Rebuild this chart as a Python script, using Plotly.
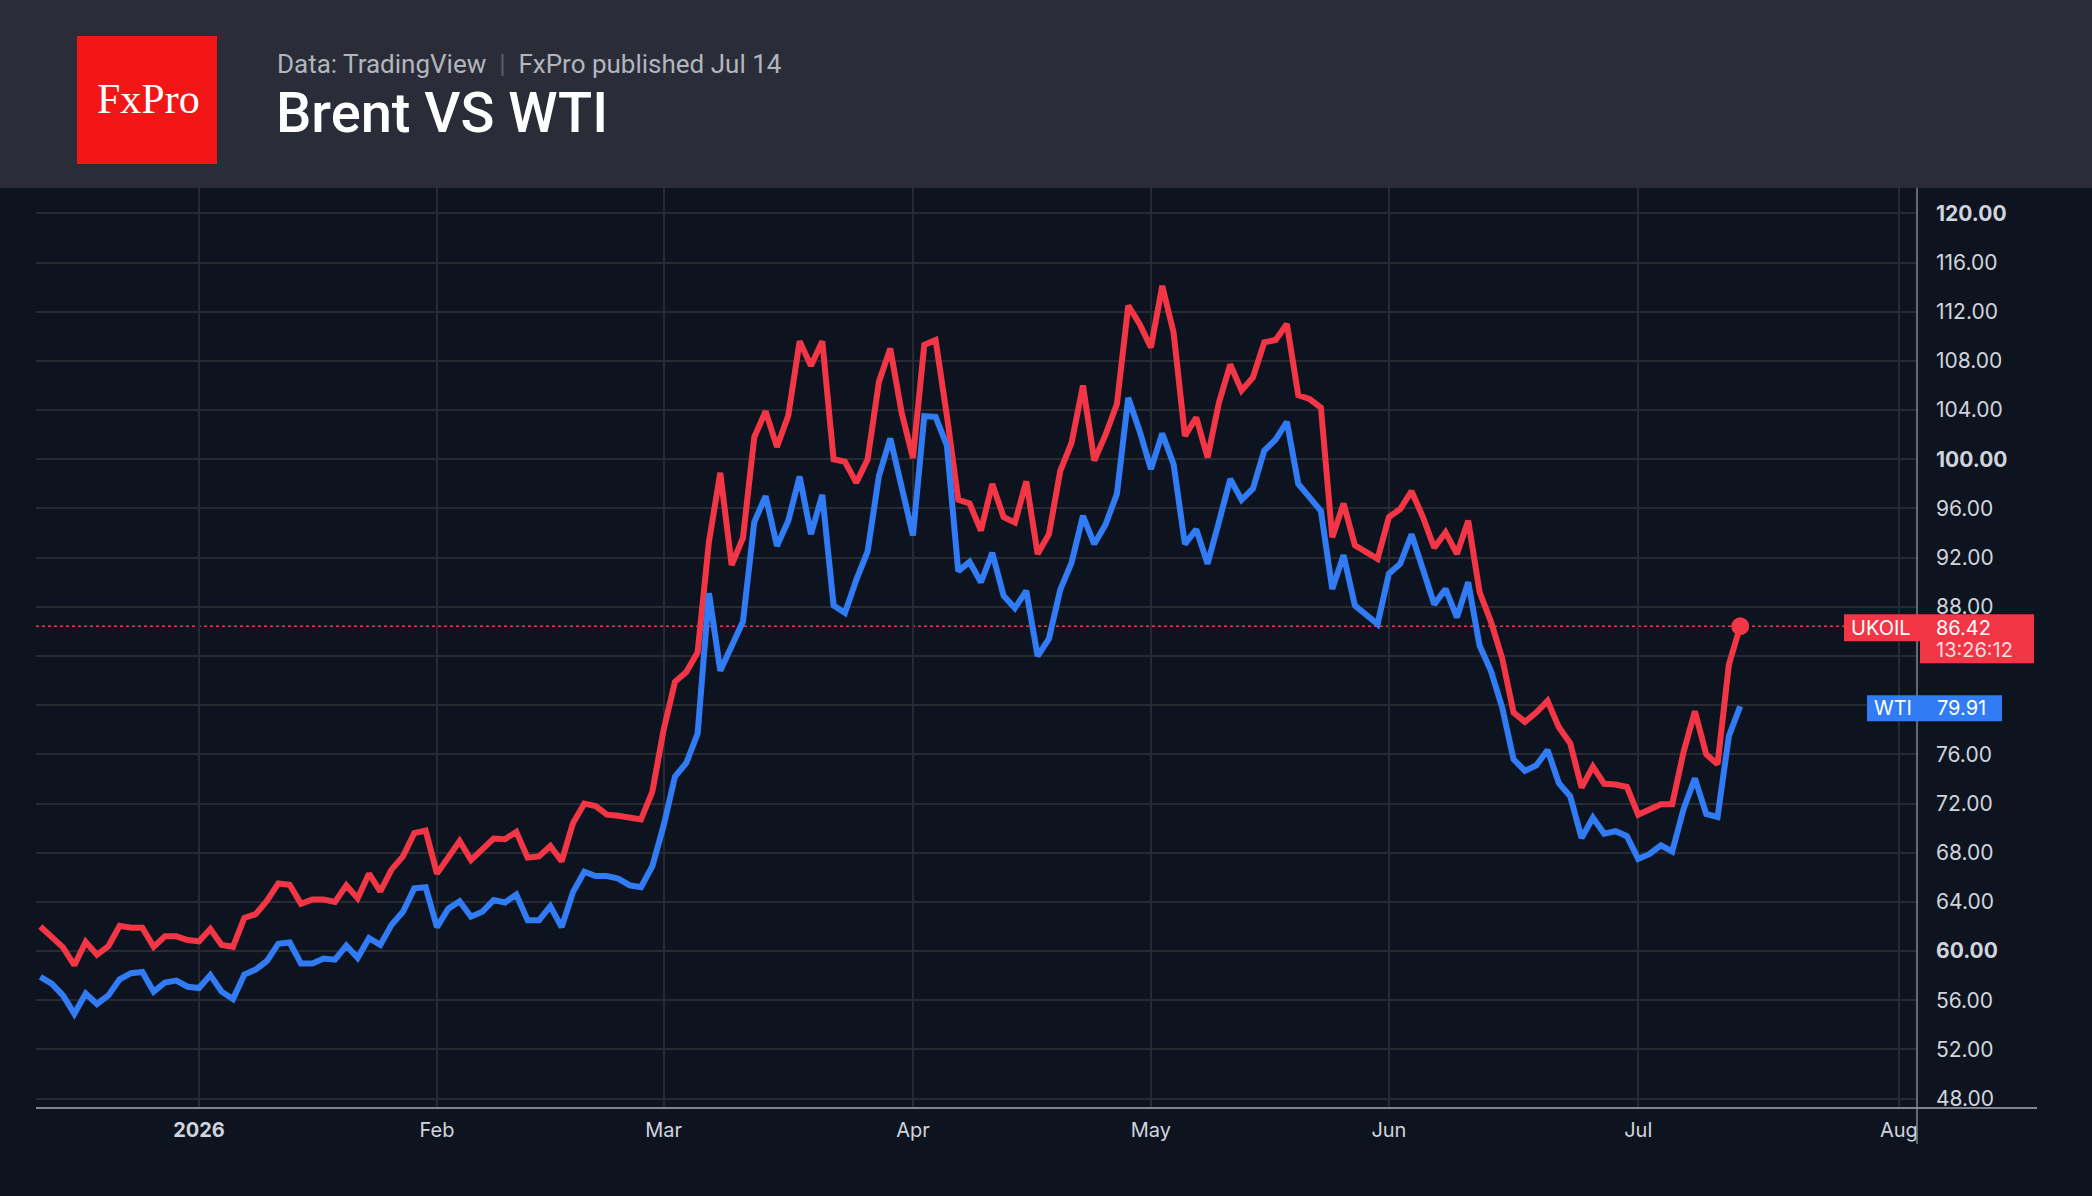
import pandas as pd
import plotly.graph_objects as go

# ---------------- data ----------------
start_date = "2025-12-11"
end_date = "2026-07-14"
holidays = ["2025-12-25", "2026-01-01", "2026-04-03"]

brent = [62.0, 61.2, 60.3, 58.85, 60.75, 59.7, 60.4, 62.05, 61.9, 61.9, 60.35, 61.2, 61.2, 60.9,
         60.8, 61.8, 60.5, 60.35, 62.7, 63.0, 64.1, 65.5, 65.4, 63.85, 64.2, 64.2, 64.0, 65.35,
         64.3, 66.3, 64.85, 66.65, 67.7, 69.6, 69.8, 66.3, 67.6, 68.95, 67.4, 68.35, 69.15, 69.1,
         69.7, 67.6, 67.7, 68.55, 67.3, 70.4, 72.0, 71.8, 71.1, 71.0, 70.9, 70.7, 72.95, 78.0,
         81.9, 82.7, 84.3, 93.3, 98.9, 91.4, 93.6, 101.8, 103.9, 101.0, 103.55, 109.6, 107.6, 109.6,
         100.0, 99.8, 98.1, 100.0, 106.3, 109.0, 103.8, 100.1, 109.3, 109.7, 103.5, 96.7, 96.4, 94.2,
         98.0, 95.3, 94.85, 98.2, 92.3, 93.9, 99.05, 101.35, 106.0, 99.9, 102.0, 104.5, 112.5, 111.0,
         109.1, 114.1, 110.3, 101.9, 103.4, 100.15, 104.6, 107.7, 105.6, 106.65, 109.5, 109.7, 111.0,
         105.2, 104.9, 104.2, 93.65, 96.4, 93.0, 92.4, 91.9, 95.3, 95.95, 97.4, 95.3, 92.8, 94.05,
         92.3, 95.0, 89.2, 86.8, 83.8, 79.4, 78.65, 79.4, 80.35, 78.2, 76.9, 73.3, 75.0, 73.6, 73.55,
         73.35, 71.1, 71.55, 71.95, 71.95, 76.2, 79.5, 76.0, 75.2, 83.3, 86.42]

wti = [57.9, 57.35, 56.4, 54.9, 56.55, 55.7, 56.4, 57.7, 58.2, 58.3, 56.7, 57.45, 57.6, 57.1,
       57.0, 58.05, 56.7, 56.1, 58.1, 58.5, 59.2, 60.6, 60.7, 59.0, 59.0, 59.4, 59.3, 60.45,
       59.45, 61.05, 60.5, 62.15, 63.2, 65.1, 65.2, 61.95, 63.45, 64.05, 62.8, 63.2, 64.15, 63.95,
       64.6, 62.5, 62.5, 63.65, 61.95, 64.8, 66.45, 66.1, 66.1, 65.9, 65.35, 65.2, 66.9, 70.2,
       74.2, 75.3, 77.7, 89.1, 82.8, 84.9, 86.8, 94.9, 97.0, 92.95, 95.0, 98.6, 93.9, 97.1,
       88.1, 87.5, 90.2, 92.5, 98.65, 101.7, 98.0, 93.8, 103.5, 103.45, 101.1, 90.9, 91.65, 90.0,
       92.4, 88.9, 87.9, 89.3, 84.0, 85.4, 89.4, 91.6, 95.4, 93.1, 94.7, 97.2, 105.0, 102.3,
       99.2, 102.1, 99.6, 93.1, 94.3, 91.5, 94.9, 98.4, 96.7, 97.6, 100.7, 101.6, 103.05,
       98.0, 96.9, 95.8, 89.45, 92.2, 88.1, 87.3, 86.6, 90.7, 91.5, 93.9, 90.95, 88.2, 89.45,
       87.15, 90.0, 84.85, 82.8, 79.8, 75.6, 74.65, 75.1, 76.35, 73.65, 72.6, 69.2, 70.85, 69.55,
       69.75, 69.35, 67.5, 67.9, 68.6, 68.1, 71.55, 74.05, 71.15, 70.9, 77.5, 79.91]

month_labels = ["<b>2026</b>", "Feb", "Mar", "Apr", "May", "Jun", "Jul", "Aug"]
month_periods = ["2026-01", "2026-02", "2026-03", "2026-04", "2026-05", "2026-06", "2026-07", "2026-08"]
y_levels = list(range(48, 121, 4))
bold_levels = [60, 100, 120]
hidden_levels = [80, 84]          # covered by the price labels in the original
brent_last_label = "86.42"
brent_timer = "13:26:12"
wti_last_label = "79.91"

# ---------------- calendar (trading bars) ----------------
cal = pd.bdate_range(start_date, "2026-08-31")
cal = cal[~cal.isin(pd.to_datetime(holidays))]
dates = cal[cal <= pd.Timestamp(end_date)]
xs = list(range(len(dates)))
n = min(len(xs), len(brent), len(wti))
xs = xs[:n]
month_pos = []
for p in month_periods:
    per = pd.Period(p, freq="M")
    month_pos.append(next(i for i, d in enumerate(cal) if d.to_period("M") == per))


def fmt(v):
    if v in hidden_levels:
        return ""
    s = "%.2f" % v
    return "<b>%s</b>" % s if v in bold_levels else s


y_text = [fmt(v) for v in y_levels]

# ---------------- geometry ----------------
W, H = 2092, 1196
L, R, T, B = 36, 175, 188, 88
PW, PH = W - L - R, H - T - B


def px_x(p):
    return (p - L) / PW


def px_y(p):
    return (H - B - p) / PH


BG = "#0d1420"
HEADER = "#2a2d38"
RED = "#f23645"
BLUE = "#317bf5"
GRID = "#272a30"
AXIS = "#82858e"
TXT = "#d1d4dc"

fig = go.Figure()
fig.add_trace(go.Scatter(x=xs, y=brent[:n], mode="lines", line=dict(color=RED, width=6),
                         hoverinfo="skip"))
fig.add_trace(go.Scatter(x=xs, y=wti[:n], mode="lines", line=dict(color=BLUE, width=6),
                         hoverinfo="skip"))
fig.add_trace(go.Scatter(x=[xs[-1]], y=[brent[n - 1]], mode="markers",
                         marker=dict(color=RED, size=18), hoverinfo="skip"))

shapes = []
# header band
shapes.append(dict(type="rect", xref="paper", yref="paper", x0=px_x(0), x1=px_x(W),
                   y0=px_y(188), y1=px_y(0), fillcolor=HEADER, line=dict(width=0), layer="above"))
# logo
shapes.append(dict(type="rect", xref="paper", yref="paper", x0=px_x(77), x1=px_x(217),
                   y0=px_y(164), y1=px_y(36), fillcolor="#f31616", line=dict(width=0), layer="above"))
# dotted last-price line
shapes.append(dict(type="line", xref="paper", yref="y", x0=0, x1=1, y0=brent[n - 1], y1=brent[n - 1],
                   line=dict(color=RED, width=1.5, dash="dot"), layer="below"))
# axis lines
shapes.append(dict(type="line", xref="paper", yref="paper", x0=1, x1=1, y0=px_y(1144), y1=px_y(188),
                   line=dict(color=AXIS, width=1.5), layer="above"))
shapes.append(dict(type="line", xref="paper", yref="paper", x0=0, x1=px_x(2037), y0=0, y1=0,
                   line=dict(color=AXIS, width=2), layer="above"))
# price label boxes
for yv, x0p, x1p, lo, hi, col in [
    (brent[n - 1], 1844, 1920, -15, 12, RED),
    (brent[n - 1], 1920, 2034, -37, 12, RED),
    (wti[n - 1], 1867, 1920, -15, 11, BLUE),
    (wti[n - 1], 1920, 2002, -15, 11, BLUE),
]:
    shapes.append(dict(type="rect", xref="paper", yref="y", ysizemode="pixel", yanchor=yv,
                       x0=px_x(x0p), x1=px_x(x1p), y0=lo, y1=hi, fillcolor=col,
                       line=dict(width=0), layer="above"))

ann = []
ann.append(dict(text="FxPro", xref="paper", yref="paper", x=px_x(148), y=px_y(99),
                xanchor="center", yanchor="middle", showarrow=False,
                font=dict(family="Liberation Serif", size=42, color="white")))
ann.append(dict(text="Data: TradingView&nbsp;&nbsp;<span style='color:#5d606a'>|</span>&nbsp;&nbsp;FxPro published Jul 14",
                xref="paper", yref="paper", x=px_x(275), y=px_y(64), xanchor="left", yanchor="middle",
                showarrow=False, font=dict(family="Roboto", size=26, color="#b2b5be")))
ann.append(dict(text="Brent VS WTI", xref="paper", yref="paper", x=px_x(274), y=px_y(113),
                xanchor="left", yanchor="middle", showarrow=False,
                font=dict(family="Roboto", size=56, color="white", weight=500)))
lab_font = dict(family="Inter", size=20, color="white")
ann.append(dict(text="UKOIL", xref="paper", yref="y", x=px_x(1881), y=brent[n - 1], yshift=-2,
                xanchor="center", yanchor="middle", showarrow=False, font=lab_font))
ann.append(dict(text=brent_last_label, xref="paper", yref="y", x=px_x(1934), y=brent[n - 1], yshift=-2,
                xanchor="left", yanchor="middle", showarrow=False, font=lab_font))
ann.append(dict(text=brent_timer, xref="paper", yref="y", x=px_x(1934), y=brent[n - 1], yshift=-24,
                xanchor="left", yanchor="middle", showarrow=False,
                font=dict(family="Inter", size=20, color="rgba(255,255,255,0.85)")))
ann.append(dict(text="WTI", xref="paper", yref="y", x=px_x(1893), y=wti[n - 1], yshift=-2,
                xanchor="center", yanchor="middle", showarrow=False, font=lab_font))
ann.append(dict(text=wti_last_label, xref="paper", yref="y", x=px_x(1935), y=wti[n - 1], yshift=-2,
                xanchor="left", yanchor="middle", showarrow=False, font=lab_font))

fig.update_layout(
    width=W, height=H,
    margin=dict(l=L, r=R, t=T, b=B),
    paper_bgcolor=BG, plot_bgcolor=BG,
    showlegend=False, hovermode=False,
    shapes=shapes, annotations=ann,
    xaxis=dict(range=[-0.383, 165.6], tickmode="array", tickvals=month_pos, ticktext=month_labels,
               showgrid=True, gridcolor=GRID, gridwidth=1.5, zeroline=False, showline=False,
               ticks="", ticklabelstandoff=8,
               tickfont=dict(family="Inter", size=20, color=TXT)),
    yaxis=dict(range=[47.24, 122.06], side="right", tickmode="array", tickvals=y_levels,
               ticktext=y_text, showgrid=True, gridcolor=GRID, gridwidth=1.5, zeroline=False,
               showline=False, ticks="", ticklabelstandoff=18,
               tickfont=dict(family="Inter", size=21, color=TXT)),
)

fig.write_html("out.html")
